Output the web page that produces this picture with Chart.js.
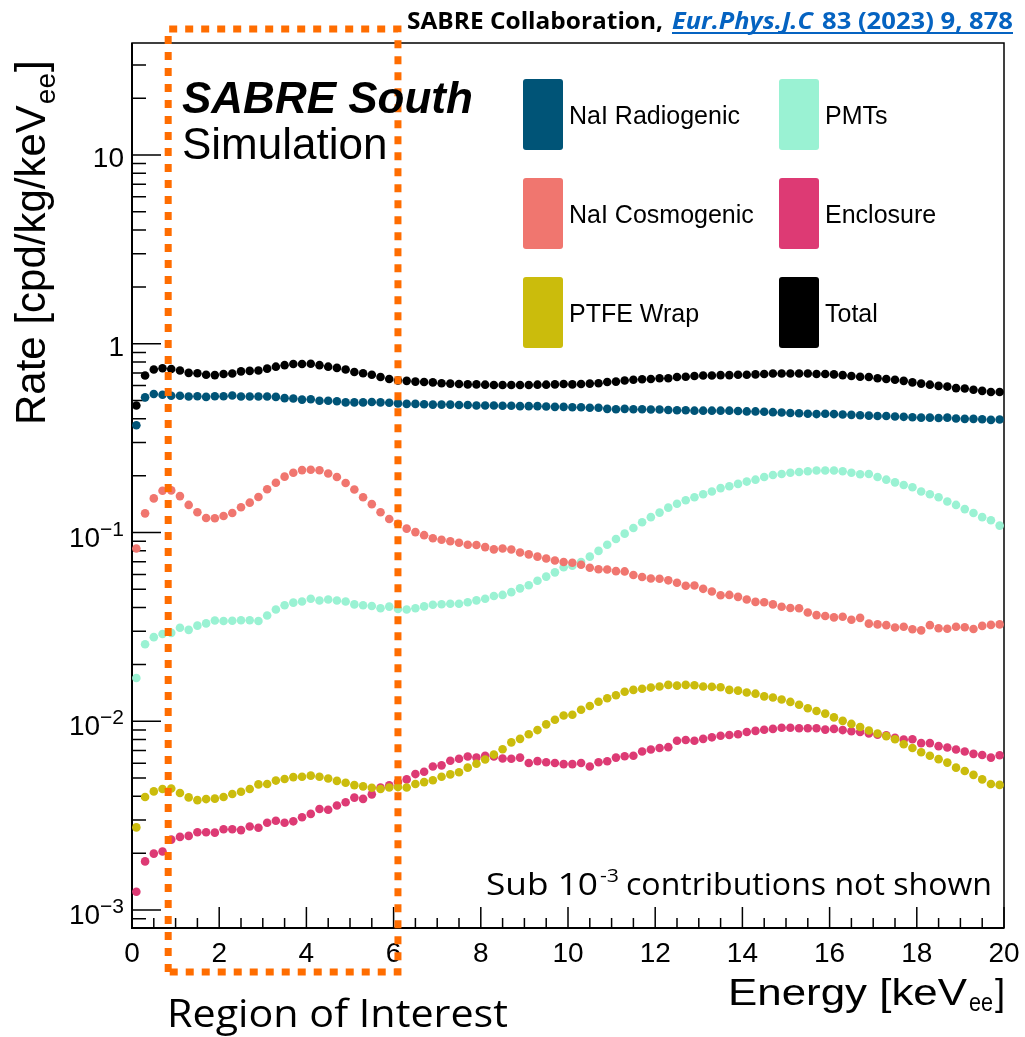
<!DOCTYPE html>
<html>
<head>
<meta charset="utf-8">
<script src="https://cdn.jsdelivr.net/npm/chart.js@4.4.1/dist/chart.umd.min.js"></script>
<style>
  html, body { margin: 0; padding: 0; background: #fff; }
  #wrap { width: 1025px; height: 1037px; }
</style>
</head>
<body>
<div id="wrap"><canvas id="sabreBkg" width="1025" height="1037" style="width:1025px;height:1037px"></canvas></div>
<script>
// energy bins: 100 bins of 0.2 keV from 0 to 20 keV (values are bin contents)
const binWidth = 0.2;

// rates [cpd/kg/keVee]
const naiRadiogenic = [
  0.370, 0.520, 0.542, 0.537, 0.530, 0.530, 0.525, 0.527, 0.523, 0.527,
  0.527, 0.532, 0.525, 0.525, 0.525, 0.525, 0.523, 0.515, 0.513, 0.506,
  0.508, 0.499, 0.499, 0.496, 0.489, 0.489, 0.489, 0.491, 0.489, 0.487,
  0.483, 0.480, 0.480, 0.478, 0.476, 0.476, 0.476, 0.474, 0.474, 0.471,
  0.471, 0.471, 0.469, 0.469, 0.467, 0.467, 0.467, 0.465, 0.463, 0.463,
  0.461, 0.461, 0.458, 0.458, 0.452, 0.450, 0.452, 0.450, 0.450, 0.448,
  0.448, 0.446, 0.444, 0.444, 0.442, 0.442, 0.442, 0.442, 0.442, 0.440,
  0.438, 0.438, 0.436, 0.434, 0.432, 0.430, 0.428, 0.426, 0.424, 0.426,
  0.424, 0.422, 0.420, 0.418, 0.416, 0.414, 0.414, 0.412, 0.410, 0.408,
  0.406, 0.406, 0.404, 0.406, 0.402, 0.400, 0.400, 0.398, 0.395, 0.397
];
const naiCosmogenic = [
  0.0822, 0.1263, 0.1516, 0.1664, 0.1671, 0.1559, 0.1400, 0.1280, 0.1194, 0.1190,
  0.1222, 0.1269, 0.1360, 0.1439, 0.1543, 0.1695, 0.1835, 0.1977, 0.2072, 0.2141,
  0.2151, 0.2136, 0.2052, 0.1968, 0.1829, 0.1690, 0.1537, 0.1413, 0.1280, 0.1178,
  0.1113, 0.1048, 0.1005, 0.0968, 0.0932, 0.0915, 0.0898, 0.0882, 0.0861, 0.0859,
  0.0837, 0.0814, 0.0822, 0.0812, 0.0784, 0.0766, 0.0745, 0.0728, 0.0711, 0.0698,
  0.0691, 0.0675, 0.0651, 0.0639, 0.0637, 0.0624, 0.0622, 0.0595, 0.0581, 0.0571,
  0.0569, 0.0558, 0.0542, 0.0522, 0.0524, 0.0503, 0.0487, 0.0465, 0.0467, 0.0456,
  0.0442, 0.0429, 0.0427, 0.0416, 0.0404, 0.0398, 0.0397, 0.0377, 0.0365, 0.0361,
  0.0355, 0.0358, 0.0345, 0.0353, 0.0329, 0.0326, 0.0323, 0.0314, 0.0317, 0.0307,
  0.0303, 0.0323, 0.0311, 0.0309, 0.0317, 0.0315, 0.0308, 0.0320, 0.0324, 0.0326
];
const ptfeWrap = [
  0.00274, 0.00397, 0.00425, 0.00438, 0.00440, 0.00417, 0.00395, 0.00382, 0.00387, 0.00389,
  0.00397, 0.00412, 0.00423, 0.00438, 0.00463, 0.00465, 0.00485, 0.00494, 0.00506, 0.00508,
  0.00515, 0.00508, 0.00497, 0.00483, 0.00472, 0.00459, 0.00452, 0.00444, 0.00438, 0.00446,
  0.00448, 0.00446, 0.00465, 0.00476, 0.00487, 0.00508, 0.00523, 0.00537, 0.00568, 0.00595,
  0.00627, 0.00666, 0.00711, 0.00773, 0.00807, 0.00853, 0.00898, 0.00963, 0.01019, 0.01072,
  0.01082, 0.01150, 0.01205, 0.01269, 0.01323, 0.01373, 0.01432, 0.01466, 0.01487, 0.01508,
  0.01529, 0.01558, 0.01544, 0.01558, 0.01551, 0.01529, 0.01522, 0.01515, 0.01466, 0.01453,
  0.01420, 0.01400, 0.01355, 0.01336, 0.01305, 0.01266, 0.01222, 0.01172, 0.01134, 0.01098,
  0.01048, 0.01005, 0.00968, 0.00932, 0.00894, 0.00861, 0.00834, 0.00803, 0.00755, 0.00721,
  0.00685, 0.00657, 0.00630, 0.00604, 0.00568, 0.00545, 0.00520, 0.00492, 0.00465, 0.00460
];
const pmts = [
  0.01695, 0.0256, 0.0279, 0.0290, 0.0294, 0.0313, 0.0305, 0.0321, 0.0330, 0.0342,
  0.0340, 0.0341, 0.0343, 0.0343, 0.0340, 0.0363, 0.0391, 0.0412, 0.0425, 0.0431,
  0.0446, 0.0436, 0.0442, 0.0436, 0.0431, 0.0416, 0.0412, 0.0408, 0.0397, 0.0405,
  0.0393, 0.0391, 0.0397, 0.0406, 0.0414, 0.0417, 0.0419, 0.0419, 0.0427, 0.0437,
  0.0446, 0.0461, 0.0467, 0.0483, 0.0506, 0.0525, 0.0555, 0.0584, 0.0615, 0.0654,
  0.0666, 0.0698, 0.0745, 0.0799, 0.0861, 0.0924, 0.0986, 0.1057, 0.1134, 0.1206,
  0.1275, 0.1354, 0.1419, 0.1481, 0.1537, 0.1595, 0.1648, 0.1719, 0.1759, 0.1809,
  0.1861, 0.1905, 0.1968, 0.2015, 0.2043, 0.2072, 0.2092, 0.2112, 0.2131, 0.2131,
  0.2131, 0.2112, 0.2072, 0.2034, 0.2043, 0.1968, 0.1905, 0.1844, 0.1785, 0.1736,
  0.1648, 0.1595, 0.1537, 0.1460, 0.1400, 0.1330, 0.1269, 0.1206, 0.1161, 0.1088
];
const enclosure = [
  0.00125, 0.00181, 0.00199, 0.00204, 0.00236, 0.00244, 0.00247, 0.00258, 0.00258, 0.00257,
  0.00268, 0.00268, 0.00265, 0.00277, 0.00273, 0.00290, 0.00297, 0.00290, 0.00295, 0.00310,
  0.00323, 0.00343, 0.00340, 0.00358, 0.00372, 0.00394, 0.00388, 0.00410, 0.00446, 0.00458,
  0.00476, 0.00492, 0.00525, 0.00540, 0.00576, 0.00584, 0.00618, 0.00633, 0.00650, 0.00642,
  0.00656, 0.00650, 0.00635, 0.00633, 0.00642, 0.00601, 0.00615, 0.00607, 0.00601, 0.00593,
  0.00593, 0.00601, 0.00576, 0.00606, 0.00614, 0.00642, 0.00653, 0.00656, 0.00692, 0.00708,
  0.00722, 0.00729, 0.00788, 0.00796, 0.00788, 0.00807, 0.00822, 0.00838, 0.00845, 0.00853,
  0.00877, 0.00889, 0.00901, 0.00911, 0.00924, 0.00924, 0.00919, 0.00919, 0.00919, 0.00903,
  0.00911, 0.00898, 0.00886, 0.00877, 0.00861, 0.00849, 0.00842, 0.00818, 0.00799, 0.00803,
  0.00766, 0.00766, 0.00738, 0.00726, 0.00708, 0.00692, 0.00672, 0.00663, 0.00642, 0.00660
];
const totalRate = [
  0.471, 0.679, 0.731, 0.742, 0.735, 0.721, 0.701, 0.698, 0.685, 0.682,
  0.691, 0.695, 0.714, 0.718, 0.721, 0.738, 0.756, 0.770, 0.781, 0.781,
  0.784, 0.770, 0.756, 0.745, 0.731, 0.708, 0.698, 0.685, 0.666, 0.651,
  0.639, 0.636, 0.630, 0.627, 0.624, 0.618, 0.615, 0.612, 0.609, 0.609,
  0.607, 0.604, 0.604, 0.604, 0.604, 0.604, 0.607, 0.607, 0.609, 0.612,
  0.609, 0.612, 0.615, 0.618, 0.627, 0.630, 0.639, 0.645, 0.648, 0.651,
  0.657, 0.657, 0.666, 0.669, 0.675, 0.679, 0.679, 0.682, 0.682, 0.685,
  0.685, 0.688, 0.691, 0.695, 0.695, 0.695, 0.695, 0.695, 0.691, 0.691,
  0.688, 0.682, 0.675, 0.669, 0.666, 0.657, 0.651, 0.645, 0.636, 0.624,
  0.615, 0.607, 0.598, 0.593, 0.582, 0.579, 0.571, 0.563, 0.555, 0.555
];

const energy = totalRate.map((_, i) => +(binWidth * (i + 0.5)).toFixed(2));

// legend order: column 1 then column 2
const seriesLabels = ['NaI Radiogenic', 'NaI Cosmogenic', 'PTFE Wrap', 'PMTs', 'Enclosure', 'Total'];
const seriesColors = ['#005477', '#f0766f', '#cbbc0c', '#9af2d3', '#dd3a74', '#000000'];
const seriesValues = [naiRadiogenic, naiCosmogenic, ptfeWrap, pmts, enclosure, totalRate];

// axis ticks
const xTickValues = [0, 2, 4, 6, 8, 10, 12, 14, 16, 18, 20];
const xTickLabels = ['0', '2', '4', '6', '8', '10', '12', '14', '16', '18', '20'];
const yTickValues = [0.001, 0.01, 0.1, 1, 10];
const yTickBase = ['10', '10', '10', '1', '10'];
const yTickExp = ['\u22123', '\u22122', '\u22121', '', ''];

// region of interest marked on the plot (keV)
const roiRange = [0.83, 6.1];

const FONT = '"Liberation Sans", Arial, Helvetica, sans-serif';
const CAL = '"Open Sans", "Liberation Sans", sans-serif';

// draw text squeezed/stretched to a given width
function fitText(ctx, text, x0, x1, y, font, color) {
  ctx.save();
  ctx.font = font;
  ctx.fillStyle = color;
  ctx.textAlign = 'left';
  ctx.textBaseline = 'alphabetic';
  const w = ctx.measureText(text).width;
  ctx.translate(x0, y);
  ctx.scale((x1 - x0) / w, 1);
  ctx.fillText(text, 0, 0);
  ctx.restore();
}

// ROOT-like frame with ticks inside the pad
const rootAxes = {
  id: 'rootAxes',
  beforeDatasetsDraw(chart) {
    const { ctx, chartArea: { left, right, top, bottom }, scales: { x, y } } = chart;
    ctx.save();
    ctx.strokeStyle = '#000';
    ctx.lineWidth = 1.5;
    ctx.strokeRect(left, top, right - left, bottom - top);
    ctx.lineWidth = 2;
    ctx.beginPath();
    ctx.moveTo(left, top); ctx.lineTo(left, bottom); ctx.lineTo(right, bottom);
    ctx.stroke();

    // x ticks every 0.5 keV, major every 2
    ctx.lineWidth = 1.5;
    ctx.beginPath();
    for (let k = 0; k <= 40; k++) {
      const v = k * 0.5;
      const px = x.getPixelForValue(v);
      const len = (k % 4 === 0) ? 21 : 10;
      ctx.moveTo(px, bottom); ctx.lineTo(px, bottom - len);
    }
    // y log ticks
    for (let d = -4; d <= 1; d++) {
      for (let m = 1; m <= 9; m++) {
        const v = m * Math.pow(10, d);
        if (v < y.min || v > y.max) continue;
        const py = y.getPixelForValue(v);
        const len = m === 1 ? 29 : 14;
        ctx.moveTo(left, py); ctx.lineTo(left + len, py);
      }
    }
    ctx.stroke();

    // tick labels
    ctx.fillStyle = '#000';
    ctx.textBaseline = 'alphabetic';
    ctx.font = '28px ' + FONT;
    ctx.textAlign = 'center';
    xTickValues.forEach((v, i) => {
      ctx.fillText(xTickLabels[i], x.getPixelForValue(v), 962);
    });
    ctx.textAlign = 'right';
    yTickValues.forEach((v, i) => {
      const py = y.getPixelForValue(v);
      if (yTickExp[i]) {
        ctx.font = '21px ' + FONT;
        const ew = ctx.measureText(yTickExp[i]).width;
        ctx.fillText(yTickExp[i], 124, py + 3);
        ctx.font = '28px ' + FONT;
        ctx.fillText(yTickBase[i], 124 - ew, py + 14);
      } else {
        ctx.font = '28px ' + FONT;
        ctx.fillText(yTickBase[i], 124, py + 12);
      }
    });
    ctx.restore();
  }
};

// dotted orange box around the region of interest
const roiBox = {
  id: 'roiBox',
  afterDatasetsDraw(chart) {
    const { ctx, chartArea: { top, bottom }, scales: { x } } = chart;
    const x0 = x.getPixelForValue(roiRange[0]);
    const x1 = x.getPixelForValue(roiRange[1]);
    const y0 = top - 14, y1 = bottom + 44;
    ctx.save();
    ctx.strokeStyle = '#ff6d00';
    ctx.lineWidth = 7;
    ctx.setLineDash([8, 8]);
    ctx.beginPath();
    ctx.moveTo(x0, y1); ctx.lineTo(x0, y0); ctx.lineTo(x1, y0); ctx.lineTo(x1, y1); ctx.lineTo(x0, y1);
    ctx.stroke();
    ctx.restore();
  }
};

// texts, titles and the boxed legend
const annotations = {
  id: 'annotations',
  afterDraw(chart) {
    const { ctx } = chart;
    ctx.save();
    ctx.fillStyle = '#000';
    ctx.textAlign = 'left';
    ctx.textBaseline = 'alphabetic';

    ctx.font = 'italic bold 44px ' + FONT;
    ctx.fillText('SABRE South', 182, 113);
    ctx.font = '44px ' + FONT;
    ctx.fillText('Simulation', 182, 159);

    // header reference
    fitText(ctx, 'SABRE Collaboration,', 407, 663, 29, 'bold 23px ' + CAL, '#000');
    fitText(ctx, 'Eur.Phys.J.C', 672, 813, 29, 'italic bold 23px ' + CAL, '#0563c1');
    fitText(ctx, '83 (2023) 9, 878', 822, 1013, 29, 'bold 23px ' + CAL, '#0563c1');
    ctx.fillStyle = '#0563c1';
    ctx.fillRect(672, 32, 341, 2);

    // note
    fitText(ctx, 'Sub 10', 486, 598, 895, '31px ' + CAL, '#000');
    fitText(ctx, '-3', 600, 619, 882, '19px ' + CAL, '#000');
    fitText(ctx, 'contributions not shown', 626, 992, 895, '31px ' + CAL, '#000');

    fitText(ctx, 'Region of Interest', 167, 508, 1027, '39px ' + CAL, '#000');

    // x title
    fitText(ctx, 'Energy [keV', 728, 967, 1005, '36px ' + FONT, '#000');
    fitText(ctx, 'ee', 969, 993, 1011, '26px ' + FONT, '#000');
    fitText(ctx, ']', 995, 1005, 1005, '36px ' + FONT, '#000');

    // y title (rotated)
    ctx.save();
    ctx.translate(45, 425);
    ctx.rotate(-Math.PI / 2);
    ctx.fillStyle = '#000';
    ctx.font = '42px ' + FONT;
    const main = 'Rate [cpd/kg/keV';
    ctx.fillText(main, 0, 0);
    let w = ctx.measureText(main).width;
    ctx.font = '28px ' + FONT;
    ctx.fillText('ee', w + 1, 10);
    w += ctx.measureText('ee').width + 2;
    ctx.font = '42px ' + FONT;
    ctx.fillText(']', w, 0);
    ctx.restore();

    // legend boxes
    const colX = [523, 779];
    const rowTop = [79, 178, 277];
    const boxW = 40, boxH = 71;
    chart.data.datasets.forEach((ds, i) => {
      const c = Math.floor(i / 3), r = i % 3;
      const bx = colX[c], by = rowTop[r];
      ctx.fillStyle = ds.backgroundColor;
      ctx.beginPath();
      ctx.roundRect(bx, by, boxW, boxH, 3);
      ctx.fill();
      ctx.fillStyle = '#000';
      ctx.font = '25px ' + FONT;
      ctx.fillText(ds.label, bx + 46, by + boxH / 2 + 9);
    });
    ctx.restore();
  }
};

const datasets = seriesLabels.map((label, i) => ({
  label,
  data: seriesValues[i].map((v, j) => ({ x: energy[j], y: v })),
  backgroundColor: seriesColors[i],
  borderColor: seriesColors[i],
  pointRadius: 4.3,
  pointBorderWidth: 0,
  showLine: false
}));

const sabreChart = new Chart(document.getElementById('sabreBkg'), {
  type: 'scatter',
  data: { datasets },
  options: {
    responsive: false,
    animation: false,
    devicePixelRatio: 1,
    layout: { padding: { top: 43, right: 21, left: 0, bottom: 0 } },
    plugins: {
      legend: { display: false },
      tooltip: { enabled: false }
    },
    scales: {
      x: {
        type: 'linear', min: 0, max: 20,
        grid: { display: false }, border: { display: false },
        ticks: { display: false },
        afterFit(scale) { scale.height = 109; }
      },
      y: {
        type: 'logarithmic', min: 8.03e-4, max: 39.2,
        grid: { display: false }, border: { display: false },
        ticks: { display: false },
        afterFit(scale) { scale.width = 132; }
      }
    }
  },
  plugins: [rootAxes, roiBox, annotations]
});
</script>
</body>
</html>
